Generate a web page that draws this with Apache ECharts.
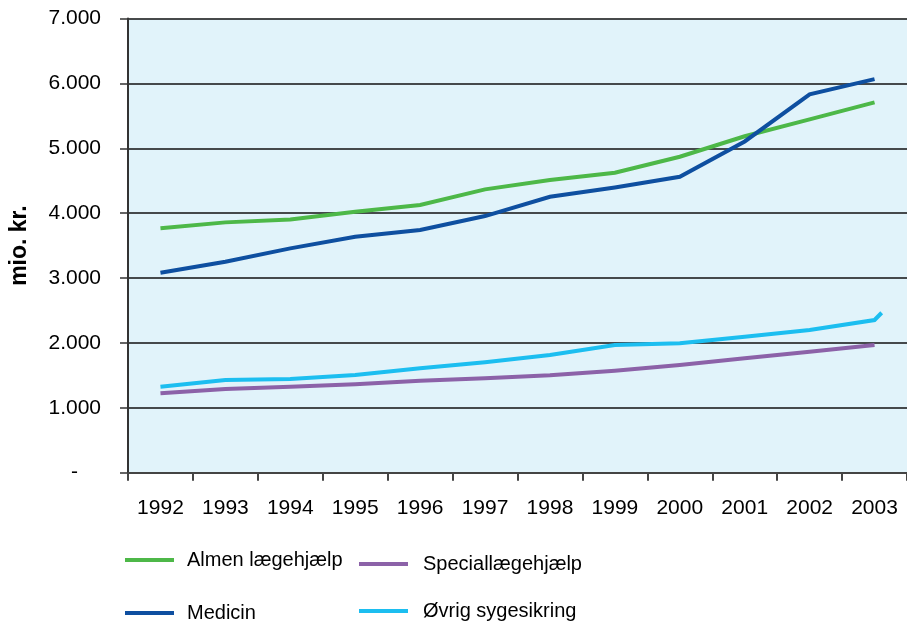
<!DOCTYPE html>
<html>
<head>
<meta charset="utf-8">
<script src="https://cdn.jsdelivr.net/npm/echarts@6/dist/echarts.min.js"></script>
<style>
  html, body { margin: 0; padding: 0; background: #ffffff; }
  #chart { width: 907px; height: 623px; }
</style>
</head>
<body>
<div id="chart"></div>
<script>
// Sygesikringens udgifter 1992-2003, mio. kr.
const years = ['1992', '1993', '1994', '1995', '1996', '1997', '1998', '1999', '2000', '2001', '2002', '2003'];

const almenLaegehjaelp = [3766, 3858, 3904, 4022, 4125, 4367, 4510, 4622, 4869, 5185, 5445, 5707];
const medicin          = [3082, 3251, 3457, 3636, 3740, 3955, 4253, 4397, 4561, 5105, 5831, 6066];
const speciallaege     = [1223, 1290, 1325, 1362, 1418, 1455, 1502, 1572, 1660, 1763, 1865, 1968];
const oevrigSygesikring = [1325, 1428, 1444, 1505, 1608, 1701, 1814, 1968, 1994, 2096, 2199, 2353];
// the last segment of "Øvrig sygesikring" runs a little past the 2003 point
const oevrigTail = [2003.11, 2465];

const FONT = '"Liberation Sans", Arial, Helvetica, sans-serif';

function pairs(values) {
  return values.map((v, i) => [Number(years[i]), v]);
}

function thousands(v) {
  return String(v).replace(/\B(?=(\d{3})+(?!\d))/g, '.');
}

const chart = echarts.init(document.getElementById('chart'), null, { renderer: 'canvas' });

const COLORS = {
  almen: '#4DB848',
  medicin: '#0E4FA0',
  special: '#8C62A8',
  oevrig: '#1CBEF0'
};

const lineSeries = (name, data, color) => ({
  name: name,
  type: 'line',
  xAxisIndex: 1,
  data: data,
  symbol: 'none',
  smooth: false,
  lineStyle: { color: color, width: 4, cap: 'butt', join: 'miter' },
  itemStyle: { color: color },
  emphasis: { disabled: true },
  animation: false
});

// one legend block per entry so each sits in its own spot of the 2x2 key
const legendItem = (name, left, centerY, textGap) => ({
  orient: 'horizontal',
  left: left,
  top: centerY - 12,
  padding: 0,
  itemWidth: 49,
  itemHeight: 4,
  icon: 'rect',
  data: [name],
  textStyle: {
    fontFamily: FONT, fontSize: 20, color: '#000',
    lineHeight: 24, padding: [0, 0, 0, textGap]
  }
});

chart.setOption({
  backgroundColor: '#ffffff',
  animation: false,
  grid: {
    left: 128,
    top: 18.5,
    width: 786,
    height: 454.2,
    show: true,
    backgroundColor: '#E1F3FA',
    borderWidth: 0
  },
  legend: [
    legendItem('Almen lægehjælp', 125, 560, 8),
    legendItem('Medicin', 125, 613, 8),
    legendItem('Speciallægehjælp', 359, 564, 10),
    legendItem('Øvrig sygesikring', 359, 611, 10)
  ],
  xAxis: [
    {
      type: 'category',
      data: years,
      boundaryGap: true,
      axisLine: { show: true, lineStyle: { color: '#444', width: 2 } },
      axisTick: { show: true, interval: 0, length: 8, lineStyle: { color: '#444', width: 2 } },
      axisLabel: { interval: 0, margin: 25, fontFamily: FONT, fontSize: 21, color: '#000' },
      splitLine: { show: false }
    },
    {
      type: 'value',
      min: 1991.5,
      max: 2003.5,
      show: false
    }
  ],
  yAxis: {
    type: 'value',
    min: 0,
    max: 7000,
    interval: 1000,
    name: 'mio. kr.',
    nameLocation: 'middle',
    nameGap: 97,
    nameRotate: 90,
    nameTextStyle: { fontFamily: FONT, fontSize: 23, fontWeight: 'bold', color: '#000' },
    axisLine: { show: true, lineStyle: { color: '#333', width: 2 } },
    axisTick: { show: true, length: 8, lineStyle: { color: '#333', width: 1.5 } },
    axisLabel: {
      margin: 27,
      fontFamily: FONT,
      fontSize: 21,
      color: '#000',
      formatter: v => (v === 0 ? '{d|-}' : thousands(v)),
      rich: { d: { fontFamily: FONT, fontSize: 21, color: '#000', padding: [0, 23, 0, 0] } }
    },
    splitLine: { show: true, lineStyle: { color: '#111', width: 1.5 } }
  },
  series: [
    lineSeries('Almen lægehjælp', pairs(almenLaegehjaelp), COLORS.almen),
    lineSeries('Speciallægehjælp', pairs(speciallaege), COLORS.special),
    lineSeries('Medicin', pairs(medicin), COLORS.medicin),
    lineSeries('Øvrig sygesikring', pairs(oevrigSygesikring).concat([oevrigTail]), COLORS.oevrig)
  ]
});
</script>
</body>
</html>
